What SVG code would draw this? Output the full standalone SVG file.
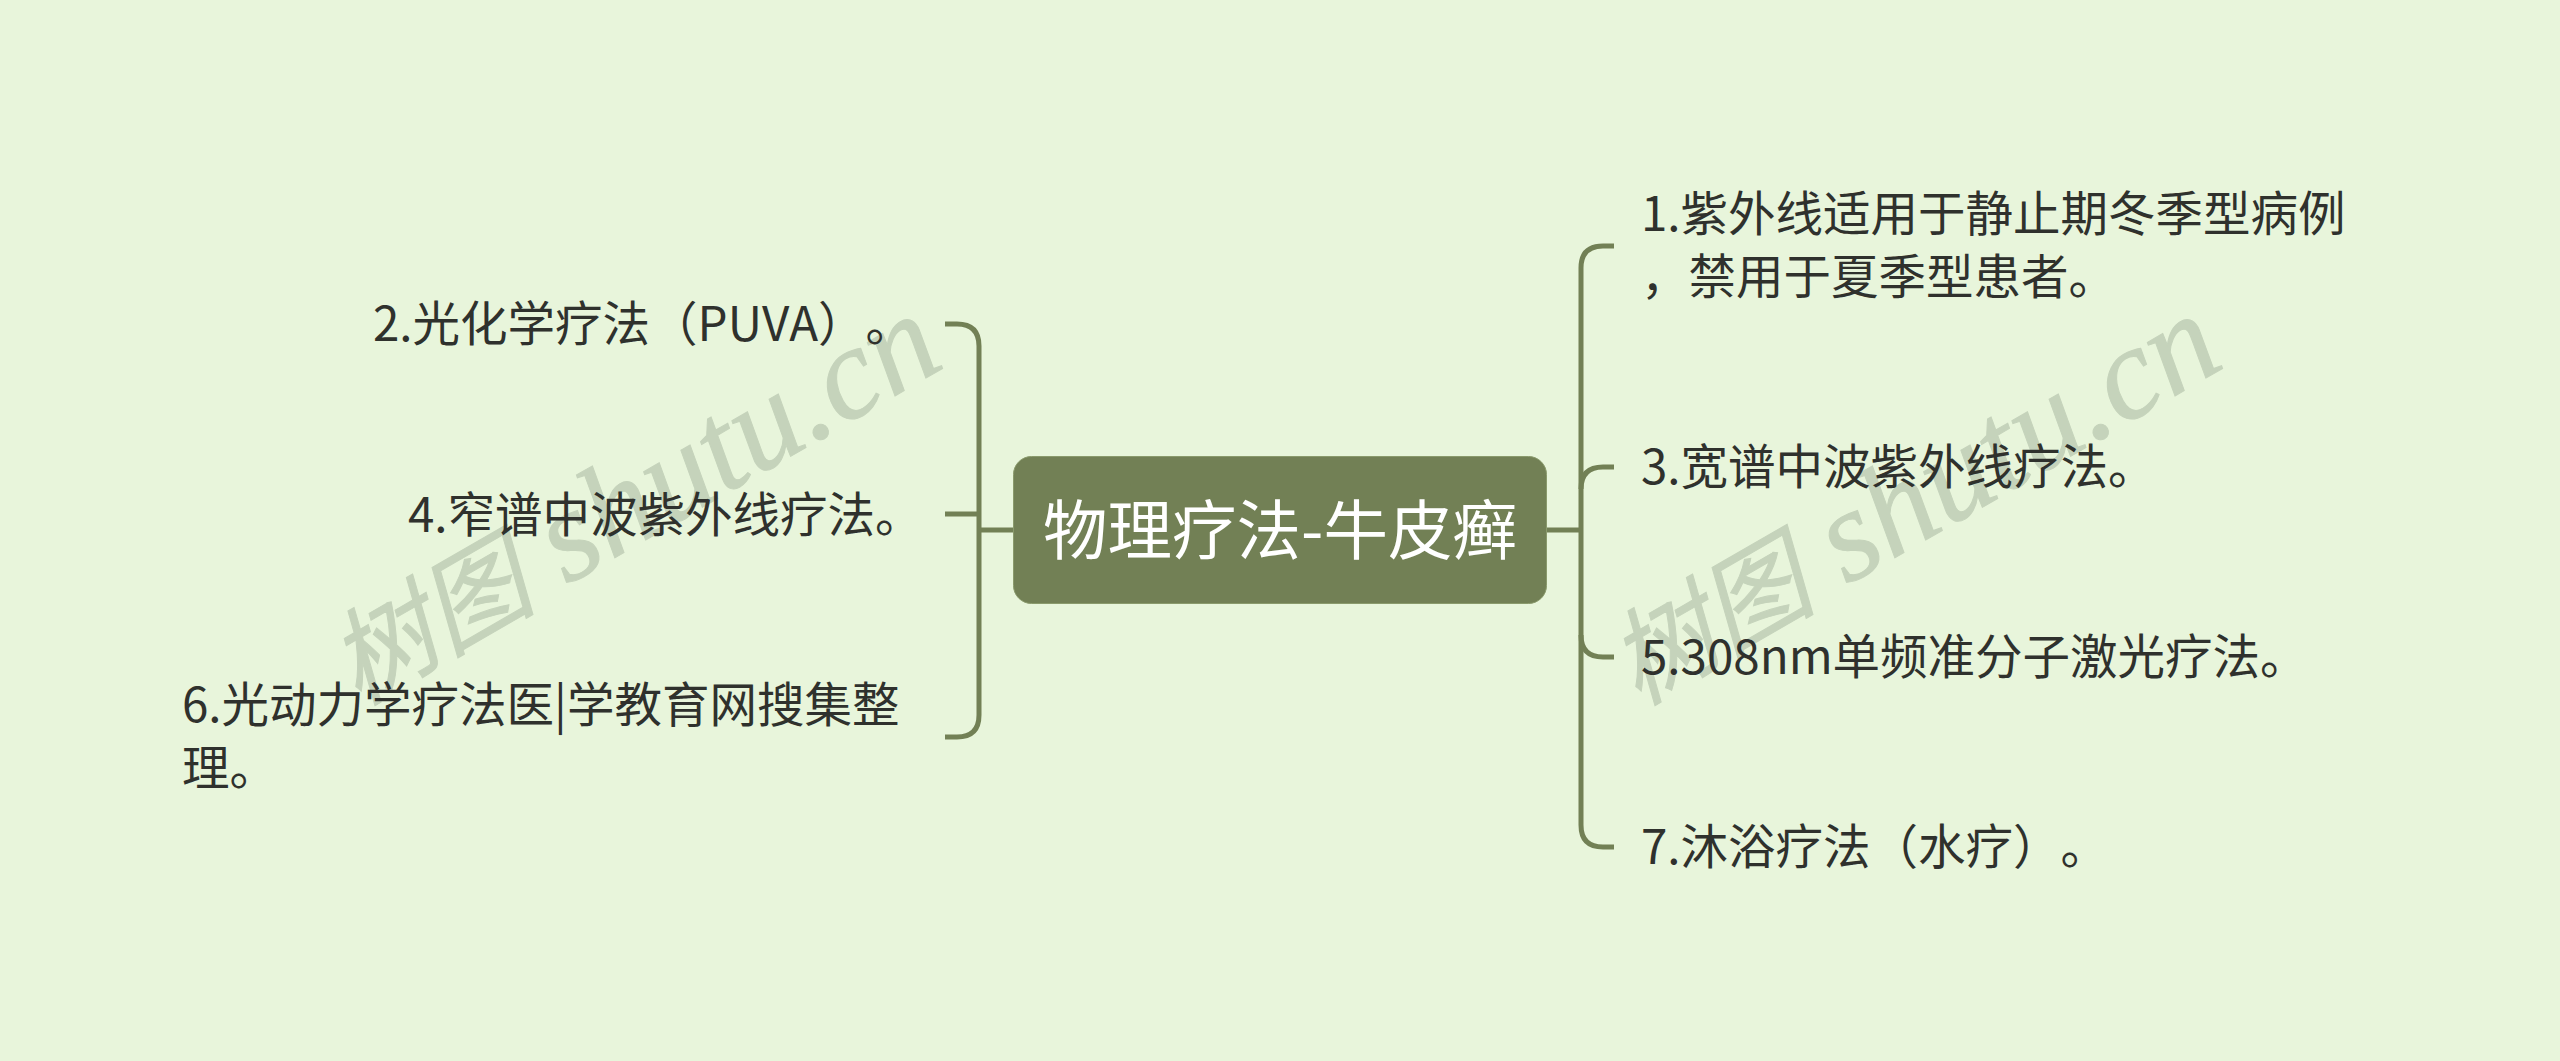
<svg xmlns="http://www.w3.org/2000/svg" width="2560" height="1061" viewBox="0 0 2560 1061">
<style>
text{font-family:"Noto Sans CJK SC","Noto Sans",sans-serif;text-spacing-trim:space-all;font-kerning:none}
.t{font-size:47.5px;fill:#2f312d}
.w{font-family:"Liberation Serif","Noto Sans CJK SC",serif;font-style:italic;font-size:131px;fill:#c5d3bb;stroke:#c5d3bb;stroke-width:1}
.z{font-size:104px}
.c{fill:none;stroke:#728055;stroke-width:5}
</style>
<rect width="2560" height="1061" fill="#e8f5db"/>
<g id="watermarks">
<text class="w" transform="translate(358 706) rotate(-30)"><tspan class="z">树图</tspan> shutu.cn</text>
<text class="w" transform="translate(1638 706) rotate(-30)"><tspan class="z">树图</tspan> shutu.cn</text>
</g>
<g id="connectors" class="c">
<path d="M1547 530H1581"/>
<path d="M1614 246H1603Q1581 246 1581 268V825Q1581 847 1603 847H1614"/>
<path d="M1614 467H1603Q1581 467 1581 489"/>
<path d="M1581 635Q1581 657 1603 657H1614"/>
<path d="M1013 530H979"/>
<path d="M945 324H957Q979 324 979 346V715Q979 737 957 737H945"/>
<path d="M945 514H979"/>
</g>
<g id="root"><rect x="1013.500" y="456.500" width="533" height="147" rx="18" fill="#728055" stroke="#8a9a6c"/><text x="1280" y="554" font-size="64.500" fill="#fff" text-anchor="middle">物理疗法-牛皮癣</text></g>
<g id="n1"><text class="t" x="1641" y="231">1.紫外线适用于静止期冬季型病例</text><text class="t" x="1641" y="294">，禁用于夏季型患者。</text></g>
<g id="n2"><text class="t" x="373" y="341">2.光化学疗法（PUVA）。</text></g>
<g id="n3"><text class="t" x="1641" y="484">3.宽谱中波紫外线疗法。</text></g>
<g id="n4"><text class="t" x="408" y="532">4.窄谱中波紫外线疗法。</text></g>
<g id="n5"><text class="t" x="1641" y="674">5.308nm单频准分子激光疗法。</text></g>
<g id="n6"><text class="t" x="182" y="722">6.光动力学疗法医|学教育网搜集整</text><text class="t" x="182" y="785">理。</text></g>
<g id="n7"><text class="t" x="1641" y="864">7.沐浴疗法（水疗）。</text></g>
</svg>
